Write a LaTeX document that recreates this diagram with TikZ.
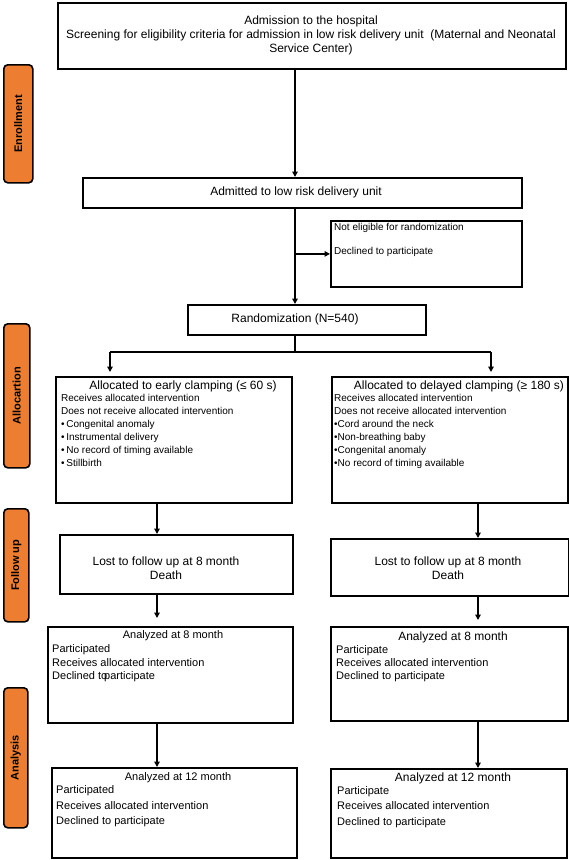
\documentclass[tikz,border=0pt]{standalone}
\usepackage{fontspec}
\setmainfont{Liberation Sans}
\usetikzlibrary{arrows.meta}
\definecolor{orangeF}{RGB}{237,125,49}
\begin{document}
\begin{tikzpicture}[x=1pt,y=-1pt,
  box/.style={draw, line width=1.8pt, inner sep=0pt, anchor=north west},
  side/.style={draw, line width=1.6pt, fill=orangeF, rounded corners=4pt, inner sep=0pt, anchor=north west},
  sidetext/.style={rotate=90, inner sep=0pt, font=\bfseries\fontsize{11}{13}\selectfont},
  f12/.style={inner sep=0pt, text height=8.6pt, text depth=2.6pt, font=\fontsize{12}{14}\selectfont},
  f11/.style={inner sep=0pt, text height=7.9pt, text depth=2.4pt, font=\fontsize{11}{13}\selectfont},
  f10/.style={inner sep=0pt, text height=7.2pt, text depth=2.2pt, font=\fontsize{10}{12}\selectfont},
  ln/.style={line width=1.8pt},
  arr/.style={line width=1.8pt, -{Triangle[length=5.5pt,width=5.5pt]}}
]
\fill[white] (0,0) rectangle (569,860);
\useasboundingbox (0,0) rectangle (569,860);

% side labels
\node[side, minimum width=29pt, minimum height=118pt] (sEn) at (3,64) {};
\node[side, minimum width=26pt, minimum height=144pt] (sAl) at (3,323) {};
\node[side, minimum width=25pt, minimum height=113pt] (sFu) at (3,508) {};
\node[side, minimum width=24pt, minimum height=140pt] (sAn) at (3,687) {};
\node[sidetext] (tEn) at (sEn.center) {Enrollment};
\node[sidetext] (tAl) at (sAl.center) {Allocartion};
\node[sidetext] (tFu) at (sFu.center) {Follow up};
\node[sidetext] (tAn) at (sAn.center) {Analysis};

% boxes
\node[box, minimum width=508pt, minimum height=66pt] (adm) at (57,2) {};
\node[box, minimum width=439pt, minimum height=30pt] (unit) at (82,177) {};
\node[box, minimum width=191pt, minimum height=66pt] (excl) at (330,220) {};
\node[box, minimum width=238pt, minimum height=30pt] (rnd) at (187,304) {};
\node[box, minimum width=236pt, minimum height=126pt] (alL) at (55,376) {};
\node[box, minimum width=236pt, minimum height=126pt] (alR) at (331,376) {};
\node[box, minimum width=233pt, minimum height=59pt] (fuL) at (59,534) {};
\node[box, minimum width=238pt, minimum height=57pt] (fuR) at (330,538) {};
\node[box, minimum width=245pt, minimum height=96pt] (a8L) at (47,626) {};
\node[box, minimum width=237pt, minimum height=94pt] (a8R) at (330,626) {};
\node[box, minimum width=245pt, minimum height=90pt] (a12L) at (51,767) {};
\node[box, minimum width=236pt, minimum height=89pt] (a12R) at (330,768) {};

% texts
\node[f12] (admT1) at (311,21) {Admission to the hospital};
\node[f12] (admT2) at (311,35) {Screening for eligibility criteria for admission in low risk delivery unit\ \ (Maternal and Neonatal};
\node[f12] (admT3) at (311,49) {Service Center)};
\node[f12] (unitT) at (296,192) {Admitted to low risk delivery unit};
\node[f10, anchor=west] (exT1) at (334,228) {Not eligible for randomization};
\node[f10, anchor=west] (exT2) at (334,252) {Declined to participate};
\node[f12] (rndT) at (295,319) {Randomization (N=540)};

\node[f12] (alLh) at (183,386) {Allocated to early clamping (≤ 60 s)};
\node[f12] (alRh) at (459,386) {Allocated to delayed clamping (≥ 180 s)};
\foreach \t [count=\i] in {Receives allocated intervention, Does not receive allocated intervention, •\,Congenital anomaly, •\,Instrumental delivery, •\,No record of timing available, •\,Stillbirth}
  \node[f10, anchor=west] (alL\i) at (61,{399+13*(\i-1)}) {\t};
\foreach \t [count=\i] in {Receives allocated intervention, Does not receive allocated intervention, •Cord around the neck, •Non-breathing baby, •Congenital anomaly, •No record of timing available}
  \node[f10, anchor=west] (alR\i) at (334,{399+13*(\i-1)}) {\t};

\node[f12] (fuL1) at (166,562) {Lost to follow up at 8 month};
\node[f12] (fuL2) at (166,576) {Death};
\node[f12] (fuR1) at (448,562) {Lost to follow up at 8 month};
\node[f12] (fuR2) at (448,576) {Death};

\node[f11] (a8Lh) at (173,636) {Analyzed at 8 month};
\node[f11, anchor=west] (a8L1) at (52,650) {Participated};
\node[f11, anchor=west] (a8L2) at (52,664) {Receives allocated intervention};
\node[f11, anchor=west] (a8L3) at (52,677) {Declined to\kern-3pt participate};
\node[f12] (a8Rh) at (453,637) {Analyzed at 8 month};
\node[f11, anchor=west] (a8R1) at (336,651) {Participate};
\node[f11, anchor=west] (a8R2) at (336,664) {Receives allocated intervention};
\node[f11, anchor=west] (a8R3) at (336,677) {Declined to participate};

\node[f11] (a12Lh) at (178,778) {Analyzed at 12 month};
\node[f11, anchor=west] (a12L1) at (56,791) {Participated};
\node[f11, anchor=west] (a12L2) at (56,807) {Receives allocated intervention};
\node[f11, anchor=west] (a12L3) at (56,822) {Declined to participate};
\node[f12] (a12Rh) at (453,778) {Analyzed at 12 month};
\node[f11, anchor=west] (a12R1) at (337,792) {Participate};
\node[f11, anchor=west] (a12R2) at (337,807) {Receives allocated intervention};
\node[f11, anchor=west] (a12R3) at (337,823) {Declined to participate};

% connectors
\coordinate (tr) at (295,0);
\coordinate (brL) at (110,352);
\coordinate (brR) at (491,352);
\coordinate (cl) at (157,0);
\coordinate (cr) at (478,0);
\draw[arr] (adm.south -| tr) -- (unit.north -| tr);
\draw[arr] (unit.south -| tr) -- (rnd.north -| tr);
\draw[arr] (tr |- excl.west) -- (excl.west);
\draw[ln] (rnd.south -| tr) -- (tr |- brL);
\draw[ln] (brL) -- (brR);
\draw[arr, shorten >=4pt] (brL) -- (alL.north -| brL);
\draw[arr, shorten >=4pt] (brR) -- (alR.north -| brR);
\draw[arr] (alL.south -| cl) -- (fuL.north -| cl);
\draw[arr] (alR.south -| cr) -- (fuR.north -| cr);
\draw[arr, shorten >=8pt] (fuL.south -| cl) -- (a8L.north -| cl);
\draw[arr, shorten >=6pt] (fuR.south -| cr) -- (a8R.north -| cr);
\draw[arr] (a8L.south -| cl) -- (a12L.north -| cl);
\draw[arr] (a8R.south -| cr) -- (a12R.north -| cr);
\end{tikzpicture}
\end{document}
